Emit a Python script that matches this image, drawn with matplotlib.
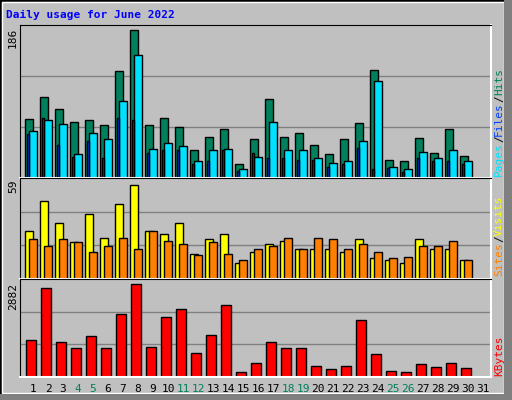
import matplotlib
matplotlib.use("Agg")
import matplotlib.pyplot as plt
from matplotlib.patches import Rectangle
import numpy as np

days = list(range(1, 32))
hits = [74, 102, 87, 71, 73, 66, 135, 186, 66, 76, 64, 35, 52, 61, 18, 49,
        99, 52, 57, 41, 30, 49, 69, 136, 23, 21, 50, 31, 62, 28, 0]
files = [59, 73, 68, 30, 56, 49, 97, 155, 36, 44, 40, 21, 35, 36, 11, 27,
         70, 35, 35, 25, 19, 21, 47, 122, 14, 11, 33, 25, 35, 21, 0]
pages = [55, 75, 41, 27, 47, 25, 76, 73, 31, 35, 35, 17, 21, 35, 9, 31,
         25, 25, 22, 22, 14, 18, 38, 11, 12, 8, 25, 21, 21, 18, 0]
visits = [30, 49, 35, 23, 41, 26, 47, 59, 30, 28, 35, 16, 25, 28, 10, 17,
          22, 24, 19, 19, 19, 17, 25, 13, 12, 10, 25, 19, 19, 12, 0]
sites = [25, 21, 25, 23, 17, 21, 26, 19, 30, 24, 22, 15, 23, 16, 12, 19,
         21, 26, 19, 26, 25, 19, 22, 17, 13, 14, 21, 21, 24, 12, 0]
kbytes = [1140, 2755, 1077, 887, 1267, 887, 1964, 2882, 918, 1869, 2122, 760,
          1298, 2249, 158, 443, 1077, 887, 887, 348, 253, 348, 1774, 728,
          190, 158, 412, 317, 443, 285, 0]
weekends = [4, 5, 11, 12, 18, 19, 25, 26]

C_HITS, C_FILES, C_PAGES = "#00805C", "#0040FF", "#00E0FF"
C_VISITS, C_SITES, C_KB = "#FFFF00", "#FF8000", "#FF0000"
BG = "#C0C0C0"

W, H = 512, 400
plt.rcParams['font.family'] = 'DejaVu Sans Mono'
fig = plt.figure(figsize=(W / 100, H / 100), dpi=100, facecolor=BG)

# bevelled frame
fig.patches.append(Rectangle((0, 0), 1, 1, transform=fig.transFigure, fill=False,
                             edgecolor="black", lw=2))
fig.patches.append(Rectangle((2 / W, 7 / H), (W - 10) / W, (H - 9) / H, transform=fig.transFigure,
                             fill=False, edgecolor="white", lw=1))
fig.patches.append(Rectangle((504 / W, 0), 8 / W, 1, transform=fig.transFigure,
                             color="#808080", lw=0))
fig.patches.append(Rectangle((0, 0), 1, 6 / H, transform=fig.transFigure,
                             color="#808080", lw=0))

fig.text(6 / W, 1 - 15 / H, "Daily usage for June 2022", color="#0000FF",
         fontsize=8, fontweight="bold", va="center")

x = np.array(days)
xlim = (0.13, 31.53)


def panel(top, bottom):
    ax = fig.add_axes([20 / W, 1 - bottom / H, 471 / W, (bottom - top) / H])
    ax.set_facecolor(BG)
    ax.set_xlim(*xlim)
    ax.set_xticks([])
    ax.set_yticks([])
    for s in ax.spines.values():
        s.set_color("black")
    ax.spines["bottom"].set_color("white")
    ax.spines["right"].set_color("white")
    ax.spines["bottom"].set_linewidth(1.5)
    ax.spines["right"].set_linewidth(1.5)
    return ax


def scale(ax, vmax, frac):
    top = vmax / frac
    ax.set_ylim(0, top)
    for k in (1 / 3, 2 / 3):
        ax.axhline(top * k, color="#808080", lw=1, zorder=0)


bkw = dict(edgecolor="black", linewidth=1, align="edge")

ax1 = panel(25, 178)
scale(ax1, max(hits), 147 / 152)
ax1.bar(x - 0.51, hits, width=0.49, color=C_HITS, **bkw)
ax1.bar(x - 0.25, files, width=0.5, color=C_PAGES, **bkw)
ax1.bar(x - 0.38, pages, width=0.13, color=C_FILES, **bkw)

ax2 = panel(178, 279)
scale(ax2, max(visits), 92 / 99)
ax2.bar(x - 0.51, visits, width=0.53, color=C_VISITS, **bkw)
ax2.bar(x - 0.25, sites, width=0.5, color=C_SITES, **bkw)

ax3 = panel(279, 377)
scale(ax3, max(kbytes), 91 / 96)
ax3.bar(x - 0.45, kbytes, width=0.67, color=C_KB, **bkw)

# max labels on the left
for ax_top, val in ((28, max(hits)), (180, max(visits)), (283, max(kbytes))):
    fig.text(13 / W, 1 - ax_top / H, str(val), rotation=90, fontsize=8,
             ha="center", va="top", color="black")

fig.canvas.draw()
renderer = fig.canvas.get_renderer()


# right side legends, drawn bottom-to-top
def vlabel(y_bottom, parts):
    y = y_bottom
    for txt, col in parts:
        t = fig.text(499 / W, 1 - y / H, txt, rotation=90, fontsize=8,
                     ha="center", va="bottom", color=col)
        y -= t.get_window_extent(renderer).height


vlabel(176, [("Pages", C_PAGES), ("/", "black"), ("Files", C_FILES),
             ("/", "black"), ("Hits", C_HITS)])
vlabel(276, [("Sites", C_SITES), ("/", "black"), ("Visits", C_VISITS)])
vlabel(376, [("KBytes", C_KB)])

# day labels
trans = ax3.get_xaxis_transform()
for d in days:
    col = C_HITS if d in weekends else "black"
    ax3.text(d, -0.12, str(d), transform=trans, ha="center", va="center",
             fontsize=8, color=col, clip_on=False)

fig.savefig("out.png", dpi=100, facecolor=BG)
